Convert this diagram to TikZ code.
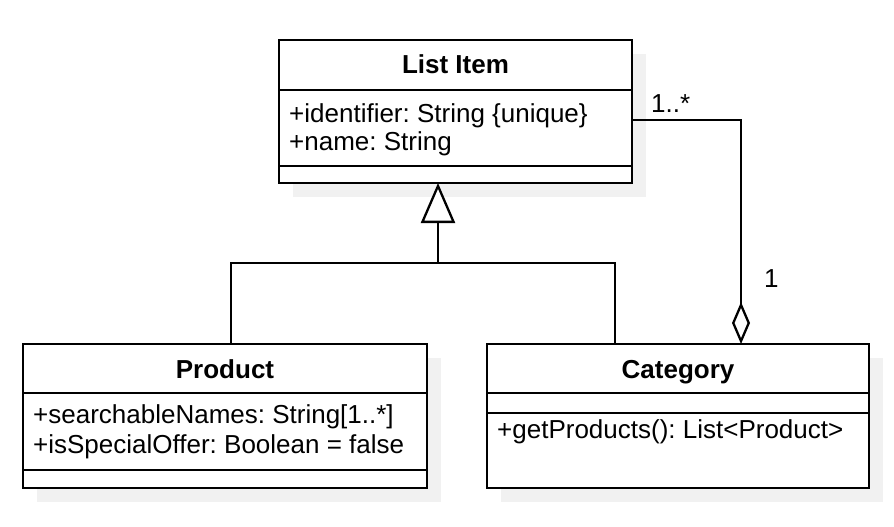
\documentclass[tikz,border=0pt]{standalone}
\usepackage{fontspec}
\setmainfont{Liberation Sans}
\usetikzlibrary{arrows.meta,calc}
\definecolor{shadowgray}{RGB}{241,241,241}
\frenchspacing
\tikzset{
  classbox/.style={draw=black, line width=2.3pt, fill=white, inner sep=0pt, outer sep=0pt},
  boxshadow/.style={fill=shadowgray, draw=none},
  divider/.style={line width=2.3pt},
  conn/.style={line width=2.3pt},
  gen/.style={conn, -{Triangle[length=40pt,width=34pt,fill=white,line width=2.3pt]}},
  aggr/.style={conn, -{Diamond[length=42pt,width=18pt,fill=white,line width=2.3pt]}},
  title/.style={font=\fontsize{26}{30}\selectfont\bfseries\frenchspacing, anchor=base, inner sep=0pt},
  member/.style={font=\fontsize{26}{30}\selectfont\frenchspacing, anchor=base west, inner sep=0pt},
  mult/.style={font=\fontsize{26}{30}\selectfont\frenchspacing, anchor=base west, inner sep=0pt}
}
\begin{document}
\begin{tikzpicture}[x=1pt,y=-1pt]
\useasboundingbox[fill=white] (0,0) rectangle (894,527);
% shadows
\fill[boxshadow] (293,54) rectangle (646,197);
\fill[boxshadow] (37,358) rectangle (441,502);
\fill[boxshadow] (501,358) rectangle (883,502);
% List Item
\node[classbox, minimum width=353pt, minimum height=143pt] (listitem) at (455.5,111.5) {};
\draw[divider] (279,90) -- (632,90);
\draw[divider] (279,166) -- (632,166);
\node[title] (litit) at (455.5,74) {List Item};
\node[member] (lia1) at (289,122) {+identifier: String \{unique\}};
\node[member] (lia2) at (289,150) {+name: String};
% Product
\node[classbox, minimum width=404pt, minimum height=144pt] (product) at (225,416) {};
\draw[divider] (23,393) -- (427,393);
\draw[divider] (23,470) -- (427,470);
\node[title] (prtit) at (225,378) {Product};
\node[member] (pra1) at (33,423) {+searchableNames: String[1..*]};
\node[member] (pra2) at (33,453) {+isSpecialOffer: Boolean = false};
% Category
\node[classbox, minimum width=382pt, minimum height=144pt] (category) at (678,416) {};
\draw[divider] (487,393) -- (869,393);
\draw[divider] (487,413) -- (869,413);
\node[title] (catit) at (678,378) {Category};
\node[member] (cam1) at (497,438) {+getProducts(): List<Product>};
% generalization
\coordinate (bus) at ($(listitem.south west)+(159,80)$);
\coordinate (litip) at ($(listitem.south west)+(159,0)$);
\draw[conn] ($(product.north west)+(208,0)$) |- (bus);
\draw[conn] ($(category.north west)+(128,0)$) |- (bus);
\draw[gen] (bus) -- (litip);
% aggregation
\coordinate (aggstart) at ($(listitem.north east)+(0,80)$);
\coordinate (aggend) at ($(category.north west)+(254,0)$);
\draw[aggr] (aggstart) -| (aggend);
\node[mult] (m1) at (651,112) {1..*};
\node[mult] (m2) at (764,287) {1};
\end{tikzpicture}
\end{document}
